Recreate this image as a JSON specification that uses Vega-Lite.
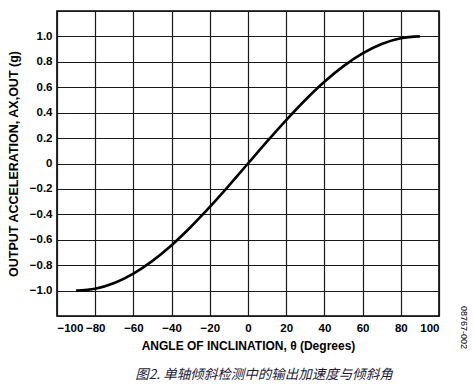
{
  "$schema": "https://vega.github.io/schema/vega-lite/v6.json",
  "width": 382,
  "height": 305,
  "autosize": "none",
  "padding": {"left": 57, "top": 11, "right": 35, "bottom": 72},
  "background": "white",
  "config": {
    "view": {"stroke": "#000000", "strokeWidth": 1.6},
    "font": "Liberation Sans"
  },
  "title": {
    "text": "图2. 单轴倾斜检测中的输出加速度与倾斜角",
    "orient": "bottom",
    "anchor": "middle",
    "offset": 16,
    "dx": 16,
    "font": "Noto Sans CJK SC",
    "fontSize": 13.5,
    "fontWeight": "normal",
    "fontStyle": "italic",
    "color": "#1a1a3a"
  },
  "layer": [
    {
      "data": {"values": [
        {"angle": -90, "accel": -1.0},
        {"angle": -80, "accel": -0.985},
        {"angle": -70, "accel": -0.94},
        {"angle": -60, "accel": -0.866},
        {"angle": -50, "accel": -0.766},
        {"angle": -40, "accel": -0.643},
        {"angle": -30, "accel": -0.5},
        {"angle": -20, "accel": -0.342},
        {"angle": -10, "accel": -0.174},
        {"angle": 0, "accel": 0.0},
        {"angle": 10, "accel": 0.174},
        {"angle": 20, "accel": 0.342},
        {"angle": 30, "accel": 0.5},
        {"angle": 40, "accel": 0.643},
        {"angle": 50, "accel": 0.766},
        {"angle": 60, "accel": 0.866},
        {"angle": 70, "accel": 0.94},
        {"angle": 80, "accel": 0.985},
        {"angle": 90, "accel": 1.0}
      ]},
      "mark": {"type": "line", "color": "#000000", "strokeWidth": 2.6, "interpolate": "monotone"},
      "encoding": {
        "x": {
          "field": "angle", "type": "quantitative",
          "scale": {"domain": [-100, 100], "nice": false},
          "axis": {
            "values": [-100, -80, -60, -40, -20, 0, 20, 40, 60, 80, 100],
            "tickCount": 11,
            "labelOverlap": false,
            "title": "ANGLE OF INCLINATION,  θ (Degrees)",
            "titleFont": "Liberation Sans", "titleFontSize": 12, "titleFontWeight": "bold", "titleColor": "#000000",
            "titlePadding": 7,
            "labelFont": "Liberation Sans", "labelFontSize": 11.5, "labelFontWeight": "bold", "labelColor": "#000000",
            "labelPadding": 6,
            "ticks": false, "domain": false,
            "grid": true, "gridColor": "#1a1a1a", "gridWidth": 1.2, "gridOpacity": 1
          }
        },
        "y": {
          "field": "accel", "type": "quantitative",
          "scale": {"domain": [-1.2, 1.2], "nice": false},
          "axis": {
            "values": [-1.2, -1.0, -0.8, -0.6, -0.4, -0.2, 0, 0.2, 0.4, 0.6, 0.8, 1.0, 1.2],
            "tickCount": 13,
            "labelOverlap": false,
            "labelExpr": "abs(datum.value) > 1.1 ? '' : (datum.value == 0 ? '0' : format(datum.value, '.1f'))",
            "title": "OUTPUT ACCELERATION, AX,OUT (g)",
            "titleFont": "Liberation Sans", "titleFontSize": 12.5, "titleFontWeight": "bold", "titleColor": "#000000",
            "titlePadding": 9,
            "labelFont": "Liberation Sans", "labelFontSize": 11.5, "labelFontWeight": "bold", "labelColor": "#000000",
            "labelPadding": 5,
            "ticks": false, "domain": false,
            "grid": true, "gridColor": "#1a1a1a", "gridWidth": 1.2, "gridOpacity": 1
          }
        }
      }
    },
    {
      "data": {"values": [{"label": "08767-002"}]},
      "mark": {"type": "text", "angle": 90, "fontSize": 9, "font": "Liberation Sans", "color": "#000000", "align": "center", "baseline": "middle", "clip": false},
      "encoding": {
        "text": {"field": "label"},
        "x": {"datum": 113, "type": "quantitative"},
        "y": {"datum": -1.29, "type": "quantitative"}
      }
    }
  ]
}
